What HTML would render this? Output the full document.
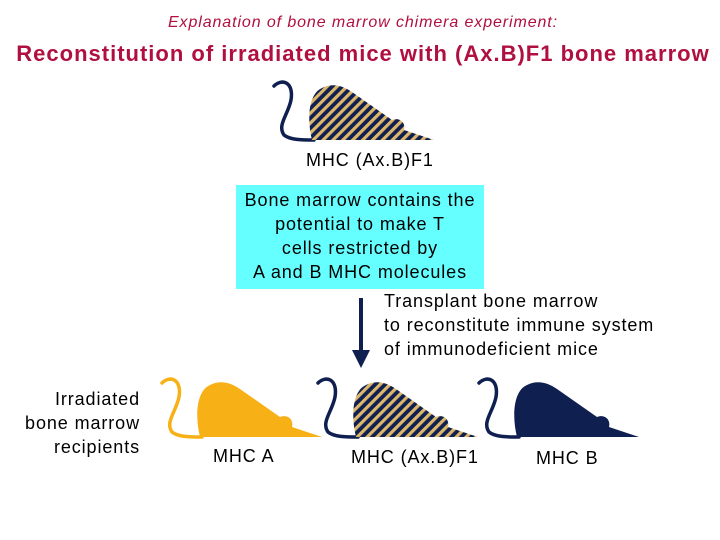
<!DOCTYPE html>
<html><head><style>
body{margin:0;width:720px;height:540px;background:#fff;position:relative;font-family:"Liberation Sans",sans-serif;overflow:hidden}
.t{position:absolute;white-space:nowrap;font-size:18px;letter-spacing:0.9px}
</style></head><body>
<svg width="720" height="540" style="position:absolute;left:0;top:0">
<defs>
<pattern id="st" width="7" height="7" patternUnits="userSpaceOnUse" patternTransform="rotate(45)">
<rect width="7" height="7" fill="#0f1f4f"/><rect width="3.2" height="7" fill="#ddb86c"/></pattern>
<g id="tail"><path d="M2,6 C10,-2 22,2 19,20 C16,35 5,45 12,55 C18,60 30,60 42,60" fill="none" stroke-width="3.5" stroke-linecap="round"/></g>
<path id="body" d="M40,60 C35,40 36,14 50,8 C60,3 70,5 80,12 L120,40 C127,37 134,42 132,50 L162,60 Z"/>
</defs>
<g transform="translate(272,80)"><use href="#tail" stroke="#0f1f4f"/><use href="#body" fill="url(#st)"/></g>
<g transform="translate(160,377)"><use href="#tail" stroke="#f7b116"/><use href="#body" fill="#f7b116"/></g>
<g transform="translate(316,377)"><use href="#tail" stroke="#0f1f4f"/><use href="#body" fill="url(#st)"/></g>
<g transform="translate(477,377)"><use href="#tail" stroke="#0f1f4f"/><use href="#body" fill="#0f1f4f"/></g>
<line x1="361" y1="298" x2="361" y2="352" stroke="#0f1f4f" stroke-width="4"/>
<polygon points="352,350 370,350 361,368" fill="#0f1f4f"/>
</svg>
<div class="t" style="left:0;width:726px;text-align:center;top:14px;font-size:16px;font-style:italic;color:#b01040">Explanation of bone marrow chimera experiment:</div>
<div class="t" style="left:0;width:726px;text-align:center;top:41px;font-size:22px;letter-spacing:1px;font-weight:bold;color:#b01040">Reconstitution of irradiated mice with (Ax.B)F1 bone marrow</div>
<div class="t" style="left:306px;top:150px">MHC (Ax.B)F1</div>
<div class="t" style="left:236px;top:185px;width:248px;height:104px;background:#66ffff;text-align:center;line-height:24px;padding-top:3px;box-sizing:border-box">Bone marrow contains the<br>potential to make T<br>cells restricted by<br>A and B MHC molecules</div>
<div class="t" style="left:384px;top:289px;line-height:24px">Transplant bone marrow<br>to reconstitute immune system<br>of immunodeficient mice</div>
<div class="t" style="left:0;width:140px;text-align:right;top:387px;line-height:24px">Irradiated<br>bone marrow<br>recipients</div>
<div class="t" style="left:213px;top:446px">MHC A</div>
<div class="t" style="left:351px;top:447px">MHC (Ax.B)F1</div>
<div class="t" style="left:536px;top:448px">MHC B</div>
</body></html>
